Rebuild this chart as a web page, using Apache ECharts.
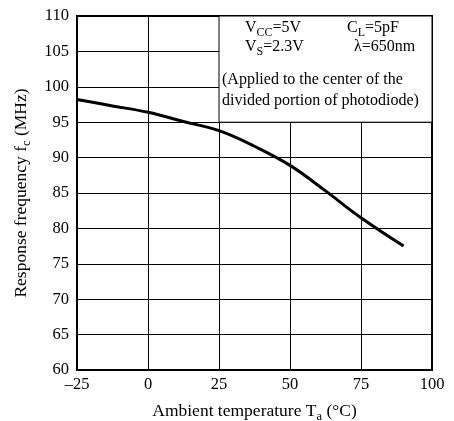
<!DOCTYPE html>
<html><head><meta charset="utf-8">
<script src="https://cdn.jsdelivr.net/npm/echarts@6/dist/echarts.min.js"></script>
<style>html,body{margin:0;padding:0;background:#fff}#c{width:454px;height:421px}</style>
</head><body><div id="c"></div>
<script>
// Response frequency vs ambient temperature
const temperature = [-25, -12.5, 0, 12.5, 25, 37.5, 50, 62.5, 75, 90];
const frequency = [98.2, 97.3, 96.4, 95.1, 93.8, 91.6, 88.9, 85.3, 81.5, 77.5];
const xRange = [-25, 100];
const yRange = [60, 110];
// Region holding the test-condition notes (temperature span, frequency span)
const noteBoxX = [25, 100];
const noteBoxY = [95, 110];

const FONT = '"Liberation Serif", "Times New Roman", serif';
const rich = {
  n: { fontSize: 16, fontFamily: FONT, color: '#000', verticalAlign: 'bottom', padding: [0, 0, 3, 0] },
  s: { fontSize: 12, fontFamily: FONT, color: '#000', verticalAlign: 'bottom' }
};
const nameRich = {
  n: { fontSize: 17.5, fontFamily: FONT, color: '#000', verticalAlign: 'bottom', padding: [0, 0, 3, 0] },
  s: { fontSize: 12.5, fontFamily: FONT, color: '#000', verticalAlign: 'bottom' }
};

const chart = echarts.init(document.getElementById('c'), null, { renderer: 'canvas' });
chart.setOption({
  animation: false,
  backgroundColor: '#fff',
  grid: { left: 77, right: 22, top: 16, bottom: 51, outerBoundsMode: 'none', containLabel: false,
    show: true, borderColor: '#000', borderWidth: 2, backgroundColor: 'transparent' },
  xAxis: {
    type: 'value', min: xRange[0], max: xRange[1], interval: 25,
    axisLine: { show: true, onZero: false, lineStyle: { color: '#000', width: 2 } },
    axisTick: { show: false },
    splitLine: { show: true, lineStyle: { color: '#000', width: 1 } },
    axisLabel: { color: '#000', fontSize: 16.5, fontFamily: FONT, margin: 6,
      formatter: v => (v < 0 ? '\u2013' + Math.abs(v) : String(v)) },
    name: '{n|Ambient temperature T}{s|a}{n| (°C)}',
    nameLocation: 'middle', nameGap: 32,
    nameTextStyle: { rich: nameRich }
  },
  yAxis: {
    type: 'value', min: yRange[0], max: yRange[1], interval: 5,
    axisLine: { show: true, onZero: false, lineStyle: { color: '#000', width: 2 } },
    axisTick: { show: false },
    splitLine: { show: true, lineStyle: { color: '#000', width: 1 } },
    axisLabel: { color: '#000', fontSize: 16.5, fontFamily: FONT, margin: 8 },
    name: '{n|Response frequency f}{s|c}{n| (MHz)}',
    nameLocation: 'middle', nameGap: 44,
    nameTextStyle: { rich: nameRich }
  },
  series: [{
    type: 'line',
    data: temperature.map((t, i) => [t, frequency[i]]),
    smooth: 0.4,
    symbol: 'none',
    lineStyle: { color: '#000', width: 3 },
    markArea: {
      silent: true,
      itemStyle: { color: '#fff', borderColor: '#000', borderWidth: 1 },
      data: [[{ coord: [noteBoxX[0], noteBoxY[1]] }, { coord: [noteBoxX[1], noteBoxY[0]] }]]
    }
  }]
});

// Test-condition notes placed relative to the note box corner
const corner = chart.convertToPixel({ gridIndex: 0 }, [noteBoxX[0], noteBoxY[1]]);
const notes = [
  { text: '{n|V}{s|CC}{n|=5V}', dx: 26, dy: 4 },
  { text: '{n|C}{s|L}{n|=5pF}', dx: 128, dy: 4 },
  { text: '{n|V}{s|S}{n|=2.3V}', dx: 26, dy: 23 },
  { text: '{n|\u03bb=650nm}', dx: 135, dy: 23 },
  { text: '{n|(Applied to the center of the}', dx: 3, dy: 56 },
  { text: '{n|divided portion of photodiode)}', dx: 3, dy: 77 }
];
chart.setOption({
  graphic: notes.map(o => ({
    type: 'text', x: corner[0] + o.dx, y: corner[1] + o.dy, z: 100,
    style: { text: o.text, rich: rich, fill: '#000' }
  }))
});
</script>
</body></html>
